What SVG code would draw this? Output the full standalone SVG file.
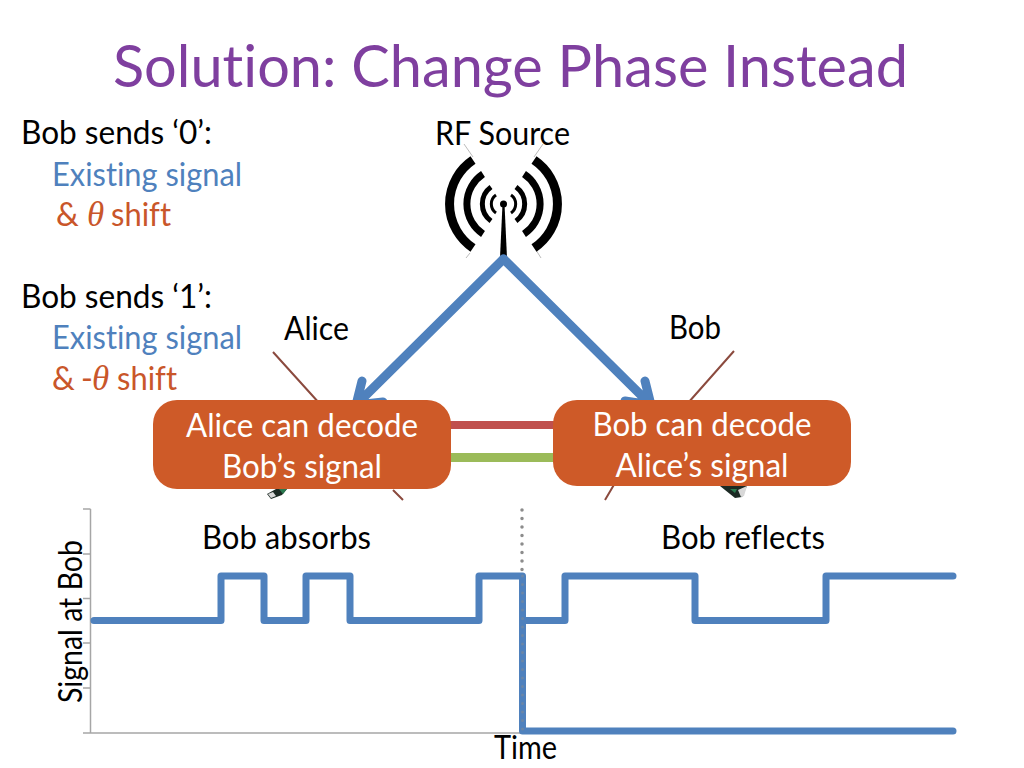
<svg xmlns="http://www.w3.org/2000/svg" width="1024" height="768" viewBox="0 0 1024 768">
<style>
text{font-family:"Lato","Open Sans","Noto Sans",sans-serif;font-size:32px;fill:#000;font-variant-ligatures:none}
.blue{fill:#4f81bd}
.org{fill:#c9562a}
.th{font-family:"Liberation Serif",serif;font-style:italic;font-size:35px}
.box{fill:#ce5a28;stroke:none}
.wt{fill:#fff;text-anchor:middle}
.sig{fill:none;stroke:#4f81bd;stroke-width:7;stroke-linejoin:round;stroke-linecap:round}
.ax{stroke:#a6a6a6;stroke-width:1.5;fill:none}
.arc{fill:none;stroke:#000}
.thin{stroke:#bbb;stroke-width:1;fill:none}
.brown{stroke:#8b4a3e;stroke-width:2;fill:none}
.arr{fill:none;stroke:#4f81bd;stroke-width:9;stroke-linecap:round;stroke-linejoin:round}
</style>
<rect width="1024" height="768" fill="#fff"/>
<text id="title" x="113" y="87" style="font-size:59px;fill:#7f3f9f" textLength="795" lengthAdjust="spacingAndGlyphs">Solution: Change Phase Instead</text>
<g id="legend">
<text x="21" y="144" textLength="191" lengthAdjust="spacingAndGlyphs">Bob sends ‘0’:</text>
<text class="blue" x="52" y="186" textLength="190" lengthAdjust="spacingAndGlyphs">Existing signal</text>
<text class="org" x="56" y="226">&amp;</text>
<text class="org th" x="87" y="226">θ</text>
<text class="org" x="111" y="226" textLength="60" lengthAdjust="spacingAndGlyphs">shift</text>
<text x="21" y="308" textLength="191" lengthAdjust="spacingAndGlyphs">Bob sends ‘1’:</text>
<text class="blue" x="52" y="349" textLength="190" lengthAdjust="spacingAndGlyphs">Existing signal</text>
<text class="org" x="52" y="390">&amp;</text>
<text class="org" x="81" y="390">-</text>
<text class="org th" x="92" y="390">θ</text>
<text class="org" x="117" y="390" textLength="60" lengthAdjust="spacingAndGlyphs">shift</text>
</g>
<g id="rf-source">
<path class="thin" d="M464 144L473 157M543 144L534 157M470 253L466 258M536 250L541 258"/>
<path class="arc" stroke-width="9" d="M473 160A53 53 0 0 0 473 248M534 160A53 53 0 0 1 534 248"/>
<path class="arc" stroke-width="7" d="M483 174A36 36 0 0 0 483 234M524 174A36 36 0 0 1 524 234"/>
<path class="arc" stroke-width="5" d="M491 187A21 21 0 0 0 491 221M516 187A21 21 0 0 1 516 221"/>
<path class="arc" stroke-width="3" d="M496 195A11 11 0 0 0 496 213M511 195A11 11 0 0 1 511 213"/>
<circle cx="503.500" cy="204" r="3.500"/>
<path d="M502.500 204H504.500L507 258H500Z"/>
<text x="435" y="145" textLength="135" lengthAdjust="spacingAndGlyphs">RF Source</text>
</g>
<g id="connectors">
<path class="arr" d="M503.500 259L356 405M362 381L356 405L383 402"/>
<path class="arr" d="M503.500 259L651 405M645 381L651 405L625 401"/>
<path class="brown" d="M273 352L320 404M393 490L403 500M734 351L688 403M615 483L605 500"/>
<rect x="445" y="421" width="115" height="8" fill="#c0504d"/>
<rect x="445" y="453" width="115" height="9" fill="#9bbb59"/>
</g>
<g id="alice-device"><path d="M267 494L276 489H287L282 495L271 499Z" fill="#1c2a24"/><path d="M268 494L273 492L276 496L271 498Z" fill="#d8d8d8"/><path d="M279 489H287L283 494Z" fill="#2a7a50"/></g>
<g id="bob-device"><path d="M720 486H747L742 497L735 498Z" fill="#1c2a24"/><path d="M738 490L747 486L744 496L741 497Z" fill="#d8d8d8"/><path d="M730 489H737L735 493Z" fill="#2a7a50"/></g>
<g id="alice-box">
<rect class="box" x="153" y="400" width="298" height="89" rx="24"/>
<text class="wt" x="302" y="437" textLength="232" lengthAdjust="spacingAndGlyphs">Alice can decode</text>
<text class="wt" x="302" y="478" textLength="160" lengthAdjust="spacingAndGlyphs">Bob’s signal</text>
</g>
<g id="bob-box">
<rect class="box" x="553" y="400" width="298" height="86" rx="24"/>
<text class="wt" x="702" y="436" textLength="219" lengthAdjust="spacingAndGlyphs">Bob can decode</text>
<text class="wt" x="702" y="477" textLength="173" lengthAdjust="spacingAndGlyphs">Alice’s signal</text>
</g>
<text id="alice-label" x="284" y="340" textLength="65" lengthAdjust="spacingAndGlyphs">Alice</text>
<text id="bob-label" x="669" y="339" textLength="52" lengthAdjust="spacingAndGlyphs">Bob</text>
<g id="chart">
<path class="ax" d="M90.500 509V733M83 509H90.500M83 554H90.500M83 598.500H90.500M83 643H90.500M83 688H90.500M83 733H522"/>
<path d="M522 510V730" fill="none" stroke="#8c8c8c" stroke-width="3.500" stroke-linecap="round" stroke-dasharray="0 8.500"/>
<path class="sig" d="M94 620.500H221V576H264V620.500H306V576H350V620.500H479V576H522.500V731H953"/>
<path class="sig" d="M525 620.500H565V576H695V620.500H826V576H953"/>
<path d="M522.500 576V731" fill="none" stroke="#8c8c8c" stroke-width="3" stroke-dasharray="0 8.500" stroke-linecap="round" opacity=".45"/>
<text x="202" y="549" textLength="169" lengthAdjust="spacingAndGlyphs">Bob absorbs</text>
<text x="661" y="549" textLength="164" lengthAdjust="spacingAndGlyphs">Bob reflects</text>
<text x="494" y="759" textLength="63" lengthAdjust="spacingAndGlyphs">Time</text>
<text transform="translate(82 703) rotate(-90)" x="0" y="0" textLength="163" lengthAdjust="spacingAndGlyphs">Signal at Bob</text>
</g>
</svg>
